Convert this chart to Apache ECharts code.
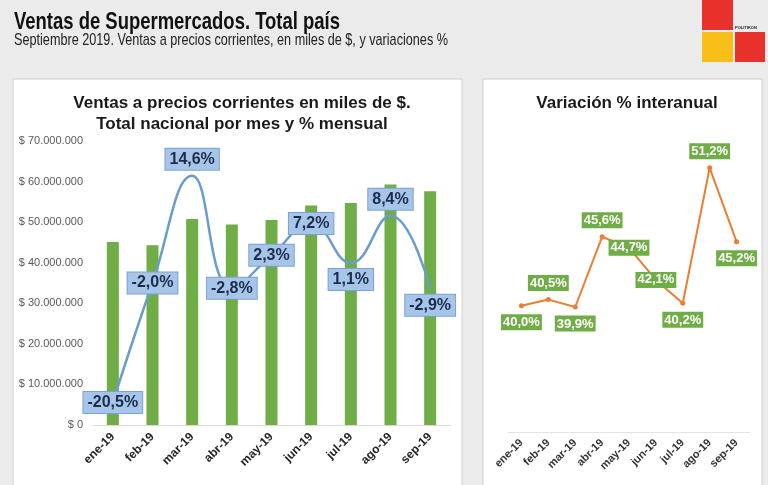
<!DOCTYPE html>
<html>
<head>
<meta charset="utf-8">
<script src="https://cdn.jsdelivr.net/npm/echarts@6/dist/echarts.min.js"></script>
<style>
html,body{margin:0;padding:0;background:#ebebeb;}
#c{width:768px;height:485px;}
</style>
</head>
<body>
<div id="c"></div>
<script>
// ---- data ----
const categories = ['ene-19','feb-19','mar-19','abr-19','may-19','jun-19','jul-19','ago-19','sep-19'];
const ventas = [45100000, 44300000, 50800000, 49400000, 50500000, 54100000, 54700000, 59300000, 57600000];
const varMensual = [-20.5, -2.0, 14.6, -2.8, 2.3, 7.2, 1.1, 8.4, -2.9];
const varInteranual = [40.0, 40.5, 39.9, 45.6, 44.7, 42.1, 40.2, 51.2, 45.2];
const yTicksMax = 70000000;
const yTicksStep = 10000000;

const pct = v => v.toFixed(1).replace('.', ',') + '%';
const money = v => '$ ' + String(Math.round(v)).replace(/\B(?=(\d{3})+(?!\d))/g, '.');

const leftPos = ['inside','inside','top','inside','inside','inside','bottom','top','bottom'];
const rightPos = ['bottom','top','bottom','top','inside','inside','bottom','top','bottom'];

const sans = "'Liberation Sans',Arial,sans-serif";
const titleText = 'Ventas de Supermercados. Total país';
const subText = 'Septiembre 2019. Ventas a precios corrientes, en miles de $, y variaciones %';
const titleFont = "bold 24px " + sans;
const subFont = "17px " + sans;
const mctx = document.createElement('canvas').getContext('2d');
function fitScale(text, font, target){ mctx.font = font; return target / mctx.measureText(text).width; }

const chart = echarts.init(document.getElementById('c'), null, {renderer:'canvas'});

const option = {
  backgroundColor: '#ebebeb',
  animation: false,
  textStyle: {fontFamily: sans},
  graphic: [
    {type:'rect', shape:{x:13,y:79,width:449,height:420}, style:{fill:'#fff', stroke:'#cfcfcf', lineWidth:1}, z:-10},
    {type:'rect', shape:{x:483,y:79,width:279,height:420}, style:{fill:'#fff', stroke:'#cfcfcf', lineWidth:1}, z:-10},
    {type:'text', x:14, y:22, scaleX:fitScale(titleText, titleFont, 326),
     style:{text:titleText, font:titleFont, fill:'#111', verticalAlign:'middle', textVerticalAlign:'middle'}},
    {type:'text', x:14, y:40, scaleX:fitScale(subText, subFont, 434),
     style:{text:subText, font:subFont, fill:'#222', verticalAlign:'middle', textVerticalAlign:'middle'}},
    {type:'rect', shape:{x:702,y:0,width:31,height:30}, style:{fill:'#e8312b'}},
    {type:'rect', shape:{x:702,y:32,width:31,height:30}, style:{fill:'#f7bf17'}},
    {type:'rect', shape:{x:735,y:32,width:30,height:30}, style:{fill:'#e8312b'}},
    {type:'text', x:735, y:26, style:{text:'POLITIKON', font:"bold 4px " + sans, fill:'#222'}}
  ],
  title: [
    {text:'Ventas a precios corrientes en miles de $.\nTotal nacional por mes y % mensual', left:237, top:88, textAlign:'center',
     textStyle:{fontSize:17, fontWeight:'bold', color:'#1a1a1a', lineHeight:21, fontFamily:sans}},
    {text:'Variación % interanual', left:622, top:88, textAlign:'center',
     textStyle:{fontSize:17, fontWeight:'bold', color:'#1a1a1a', lineHeight:20, fontFamily:sans}}
  ],
  grid: [
    {left:93, right:318, top:141, bottom:60},
    {left:508, right:18, top:121, bottom:53}
  ],
  xAxis: [
    {type:'category', gridIndex:0, data:categories,
     axisLine:{lineStyle:{color:'#d9d9d9'}}, axisTick:{lineStyle:{color:'#d9d9d9'}, length:4},
     axisLabel:{rotate:45, fontSize:12, fontWeight:'bold', color:'#262626', margin:10, interval:0}},
    {type:'category', gridIndex:1, data:categories,
     axisLine:{lineStyle:{color:'#e3e3e3'}}, axisTick:{lineStyle:{color:'#e3e3e3'}, length:5},
     axisLabel:{rotate:45, fontSize:11, fontWeight:'bold', color:'#333', margin:9, interval:0}}
  ],
  yAxis: [
    {type:'value', gridIndex:0, min:0, max:yTicksMax, interval:yTicksStep,
     splitLine:{show:false}, axisLine:{show:false}, axisTick:{show:false},
     axisLabel:{formatter:money, fontSize:11, color:'#595959', margin:10}},
    {type:'value', gridIndex:0, min:-24, max:20, show:false, splitLine:{show:false}},
    {type:'value', gridIndex:1, min:29.75, max:55, show:false, splitLine:{show:false}}
  ],
  series: [
    {type:'bar', xAxisIndex:0, yAxisIndex:0, data:ventas, barWidth:12, itemStyle:{color:'#70ad47'}, z:2},
    {type:'line', xAxisIndex:0, yAxisIndex:1, smooth:0.45, z:3,
     symbol:'circle', symbolSize:2,
     lineStyle:{color:'#6a9dcc', width:2.5}, itemStyle:{color:'#6a9dcc'},
     data: varMensual.map((v,i)=>({value:v, label:{position:leftPos[i]}})),
     label:{show:true, formatter:p=>pct(p.value), distance:5,
       backgroundColor:'#a7c5e8', borderColor:'#7aa4d2', borderWidth:1, padding:[3,4,2,4],
       fontSize:16, fontWeight:'bold', color:'#1c2c4c', fontFamily:sans}},
    {type:'line', xAxisIndex:1, yAxisIndex:2, z:3,
     symbol:'circle', symbolSize:5,
     lineStyle:{color:'#ed7d31', width:2}, itemStyle:{color:'#ed7d31'},
     data: varInteranual.map((v,i)=>({value:v, label:{position:rightPos[i]}})),
     label:{show:true, formatter:p=>pct(p.value), distance:6,
       backgroundColor:'#70ad47', padding:[2,2,1,2],
       fontSize:13, fontWeight:'bold', color:'#fff', fontFamily:sans}}
  ]
};
chart.setOption(option);
</script>
</body>
</html>
